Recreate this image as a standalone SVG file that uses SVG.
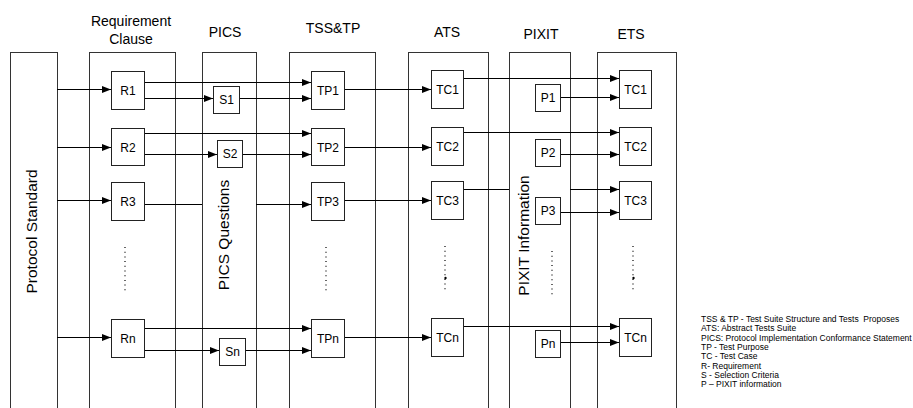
<svg xmlns="http://www.w3.org/2000/svg" width="913" height="408" viewBox="0 0 913 408">
<style>
text{font-family:"Liberation Sans",Arial,sans-serif;fill:#000}
.col{fill:#fff;stroke:#333;stroke-width:1}
.box{fill:#fff;stroke:#222;stroke-width:1}
.lb{font-size:12px;text-anchor:middle}
.hd{font-size:14px;text-anchor:middle}
.vt{font-size:15.5px;text-anchor:middle}
.lg{font-size:8.5px;white-space:pre}
.cn line{stroke:#000;stroke-width:1}
.ar{marker-end:url(#ah)}
.dots{stroke:#000;stroke-width:1.2;stroke-dasharray:1 3.7}
</style>
<defs>
<marker id="ah" markerUnits="userSpaceOnUse" markerWidth="10" markerHeight="8" refX="9" refY="3.5" orient="auto">
<path d="M0,0 L9,3.5 L0,7 z" fill="#000"/>
</marker>
</defs>
<rect width="913" height="408" fill="#fff"/>

<g id="headers">
<text class="hd" x="131" y="26">Requirement</text>
<text class="hd" x="131" y="44">Clause</text>
<text class="hd" x="225" y="37">PICS</text>
<text class="hd" x="333" y="33">TSS&amp;TP</text>
<text class="hd" x="447" y="37">ATS</text>
<text class="hd" x="541" y="39">PIXIT</text>
<text class="hd" x="631" y="39">ETS</text>
</g>

<g id="col-protocol">
<rect class="col" x="10.5" y="52.5" width="47" height="370"/>
<text class="vt" transform="translate(37,231.5) rotate(-90)">Protocol Standard</text>
</g>
<g id="col-requirement"><rect class="col" x="89.5" y="52.5" width="86" height="370"/></g>
<g id="col-pics">
<rect class="col" x="202.5" y="52.5" width="54" height="370"/>
<text class="vt" transform="translate(229,235) rotate(-90)">PICS Questions</text>
</g>
<g id="col-tss"><rect class="col" x="289.5" y="52.5" width="86" height="370"/></g>
<g id="col-ats"><rect class="col" x="408.5" y="52.5" width="80" height="370"/></g>
<g id="col-pixit">
<rect class="col" x="509.5" y="52.5" width="61" height="370"/>
<text class="vt" transform="translate(529,235.5) rotate(-90)">PIXIT Information</text>
</g>
<g id="col-ets"><rect class="col" x="597.5" y="52.5" width="79" height="370"/></g>

<g id="connectors" class="cn">
<line class="ar" x1="57" y1="89.5" x2="111" y2="89.5"/>
<line class="ar" x1="57" y1="147.5" x2="111" y2="147.5"/>
<line class="ar" x1="57" y1="200.5" x2="111" y2="200.5"/>
<line class="ar" x1="57" y1="337.5" x2="111" y2="337.5"/>

<line class="ar" x1="144" y1="82.5" x2="311" y2="82.5"/>
<line class="ar" x1="144" y1="98.5" x2="213" y2="98.5"/>
<line class="ar" x1="240" y1="98.5" x2="311" y2="98.5"/>
<line class="ar" x1="144" y1="133.5" x2="311" y2="133.5"/>
<line class="ar" x1="144" y1="154.5" x2="217" y2="154.5"/>
<line class="ar" x1="242" y1="154.5" x2="311" y2="154.5"/>
<line x1="144" y1="204.5" x2="202" y2="204.5"/>
<line class="ar" x1="256" y1="204.5" x2="311" y2="204.5"/>
<line class="ar" x1="144" y1="328.5" x2="311" y2="328.5"/>
<line class="ar" x1="144" y1="350.5" x2="219" y2="350.5"/>
<line class="ar" x1="246" y1="350.5" x2="311" y2="350.5"/>

<line class="ar" x1="344" y1="89.5" x2="431" y2="89.5"/>
<line class="ar" x1="344" y1="147.5" x2="431" y2="147.5"/>
<line class="ar" x1="344" y1="200.5" x2="431" y2="200.5"/>
<line class="ar" x1="344" y1="337.5" x2="431" y2="337.5"/>

<line class="ar" x1="463" y1="78.5" x2="619" y2="78.5"/>
<line class="ar" x1="560" y1="97.5" x2="619" y2="97.5"/>
<line class="ar" x1="463" y1="132.5" x2="619" y2="132.5"/>
<line class="ar" x1="560" y1="154.5" x2="619" y2="154.5"/>
<line x1="463" y1="189.5" x2="509" y2="189.5"/>
<line class="ar" x1="570" y1="189.5" x2="619" y2="189.5"/>
<line class="ar" x1="560" y1="212.5" x2="619" y2="212.5"/>
<line class="ar" x1="463" y1="326.5" x2="619" y2="326.5"/>
<line class="ar" x1="560" y1="342.5" x2="619" y2="342.5"/>
</g>

<g id="R1"><rect class="box" x="111.5" y="71.5" width="33" height="38"/><text class="lb" x="128" y="94.5">R1</text></g>
<g id="R2"><rect class="box" x="111.5" y="128.5" width="33" height="37"/><text class="lb" x="128" y="151.5">R2</text></g>
<g id="R3"><rect class="box" x="111.5" y="182.5" width="33" height="38"/><text class="lb" x="128" y="205.5">R3</text></g>
<g id="Rdots"><line class="dots" x1="125" y1="247" x2="125" y2="291"/></g>
<g id="Rn"><rect class="box" x="111.5" y="319.5" width="33" height="38"/><text class="lb" x="128" y="342.5">Rn</text></g>

<g id="S1"><rect class="box" x="213.5" y="86.5" width="26" height="27"/><text class="lb" x="226.5" y="104">S1</text></g>
<g id="S2"><rect class="box" x="217.5" y="140.5" width="25" height="27"/><text class="lb" x="230" y="158">S2</text></g>
<g id="Sn"><rect class="box" x="219.5" y="338.5" width="26" height="27"/><text class="lb" x="232.5" y="356">Sn</text></g>

<g id="TP1"><rect class="box" x="311.5" y="71.5" width="33" height="38"/><text class="lb" x="328" y="94.5">TP1</text></g>
<g id="TP2"><rect class="box" x="311.5" y="128.5" width="33" height="37"/><text class="lb" x="328" y="151.5">TP2</text></g>
<g id="TP3"><rect class="box" x="311.5" y="182.5" width="33" height="38"/><text class="lb" x="328" y="205.5">TP3</text></g>
<g id="TPdots"><line class="dots" x1="326" y1="247" x2="326" y2="291"/></g>
<g id="TPn"><rect class="box" x="311.5" y="319.5" width="33" height="38"/><text class="lb" x="328" y="342.5">TPn</text></g>

<g id="ATS-TC1"><rect class="box" x="431.5" y="70.5" width="32" height="38"/><text class="lb" x="447.5" y="93.5">TC1</text></g>
<g id="ATS-TC2"><rect class="box" x="431.5" y="127.5" width="32" height="38"/><text class="lb" x="447.5" y="150.5">TC2</text></g>
<g id="ATS-TC3"><rect class="box" x="431.5" y="181.5" width="32" height="38"/><text class="lb" x="447.5" y="204.5">TC3</text></g>
<g id="ATSdots"><line class="dots" x1="445" y1="246" x2="445" y2="290"/><circle cx="445.5" cy="278" r="1.2" fill="#000"/></g>
<g id="ATS-TCn"><rect class="box" x="431.5" y="318.5" width="32" height="38"/><text class="lb" x="447.5" y="341.5">TCn</text></g>

<g id="P1"><rect class="box" x="535.5" y="84.5" width="25" height="27"/><text class="lb" x="548" y="102">P1</text></g>
<g id="P2"><rect class="box" x="535.5" y="139.5" width="25" height="27"/><text class="lb" x="548" y="157">P2</text></g>
<g id="P3"><rect class="box" x="535.5" y="197.5" width="25" height="27"/><text class="lb" x="548" y="215">P3</text></g>
<g id="Pdots"><line class="dots" x1="552" y1="251" x2="552" y2="295"/></g>
<g id="Pn"><rect class="box" x="535.5" y="330.5" width="25" height="27"/><text class="lb" x="548" y="348">Pn</text></g>

<g id="ETS-TC1"><rect class="box" x="619.5" y="70.5" width="32" height="38"/><text class="lb" x="635.5" y="93.5">TC1</text></g>
<g id="ETS-TC2"><rect class="box" x="619.5" y="127.5" width="32" height="38"/><text class="lb" x="635.5" y="150.5">TC2</text></g>
<g id="ETS-TC3"><rect class="box" x="619.5" y="181.5" width="32" height="38"/><text class="lb" x="635.5" y="204.5">TC3</text></g>
<g id="ETSdots"><line class="dots" x1="633" y1="246" x2="633" y2="290"/><circle cx="633.5" cy="278" r="1.2" fill="#000"/></g>
<g id="ETS-TCn"><rect class="box" x="619.5" y="318.5" width="32" height="38"/><text class="lb" x="635.5" y="341.5">TCn</text></g>

<g id="legend">
<text class="lg" x="701" y="322">TSS &amp; TP - Test Suite Structure and Tests  Proposes</text>
<text class="lg" x="701" y="331.3">ATS: Abstract Tests Suite</text>
<text class="lg" x="701" y="340.6">PICS: Protocol Implementation Conformance Statement</text>
<text class="lg" x="701" y="349.9">TP - Test Purpose</text>
<text class="lg" x="701" y="359.2">TC - Test Case</text>
<text class="lg" x="701" y="368.5">R- Requirement</text>
<text class="lg" x="701" y="377.8">S - Selection Criteria</text>
<text class="lg" x="701" y="387.1">P – PIXIT information</text>
</g>
</svg>
